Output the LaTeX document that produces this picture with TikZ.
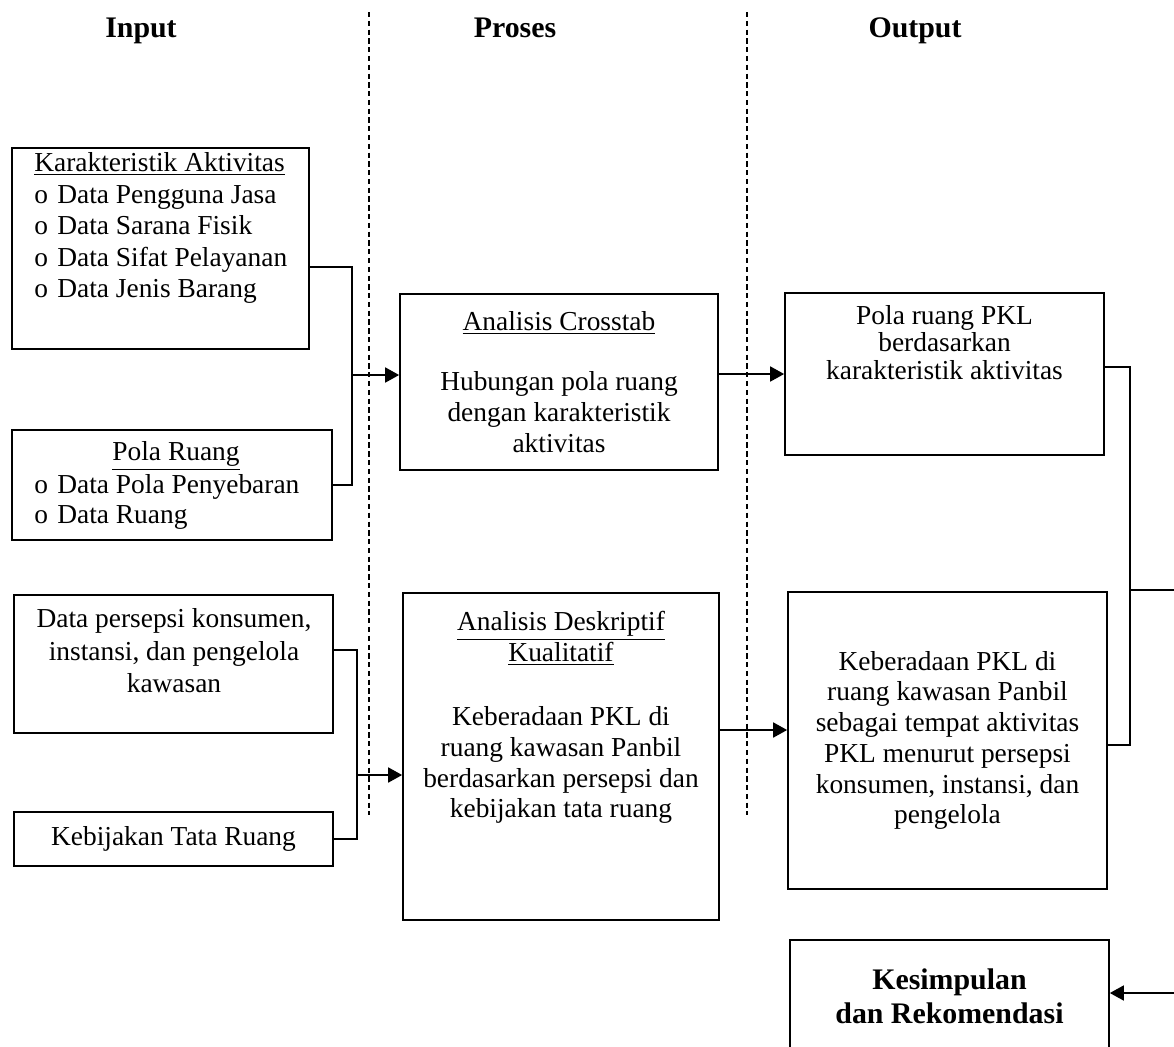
\documentclass[tikz,border=0pt]{standalone}
\usepackage{fontspec}
\setmainfont{Liberation Serif}
\usetikzlibrary{arrows.meta}

\newcommand{\bulo}{\makebox[0.46cm][l]{o}}

\begin{document}
\begin{tikzpicture}[
        x=0.02cm, y=-0.02cm,
        box/.style={draw, line width=1pt, inner sep=0pt, align=center, font=\fontsize{15.6}{17.5}\selectfont},
        txt/.style={inner sep=0pt, align=center, font=\fontsize{15.6}{17.5}\selectfont},
        head/.style={inner sep=0pt, anchor=base, font=\fontsize{17}{20}\selectfont\bfseries},
        link/.style={line width=1pt},
        arr/.style={line width=1pt, -{Triangle[length=0.28cm, width=0.3cm]}},
        sep/.style={line width=1.2pt, dash pattern=on 3pt off 2pt}
    ]
    \useasboundingbox (0,0) rectangle (1174,1046);

    \node[head] (input) at (141,37) {Input};
    \node[head] (proses) at (515,37) {Proses};
    \node[head] (output) at (915,37) {Output};

    \draw[sep] (369,12) -- (369,815);
    \draw[sep] (747,12) -- (747,815);

    \node[box, minimum width=5.94cm, minimum height=4.02cm] (kar) at (160.5,248.5) {};
    \node[txt, align=left, anchor=west, font=\fontsize{15.6}{17.9}\selectfont] (kartxt) at (34,228) {\underline{Karakteristik Aktivitas}\\\bulo Data Pengguna Jasa\\\bulo Data Sarana Fisik\\\bulo Data Sifat Pelayanan\\\bulo Data Jenis Barang};

    \node[box, minimum width=6.4cm, minimum height=2.2cm] (pola) at (172,485) {};
    \node[txt] (polatitle) at (176,456) {\underline{Pola Ruang}};
    \node[txt, align=left, anchor=west] (polatxt) at (34,502) {\bulo Data Pola Penyebaran\\\bulo Data Ruang};

    \node[box, minimum width=6.38cm, minimum height=2.76cm] (persepsi) at (173.5,664) {};
    \node[txt, font=\fontsize{15.6}{18.5}\selectfont] (persepsitxt) at (174,651) {Data persepsi konsumen,\\instansi, dan pengelola\\kawasan};

    \node[box, minimum width=6.38cm, minimum height=1.08cm] (kebijakan) at (173.5,839) {Kebijakan Tata Ruang};

    \node[box, minimum width=6.36cm, minimum height=3.52cm] (crosstab) at (559,382) {\underline{Analisis Crosstab}\\[17pt]Hubungan pola ruang\\dengan karakteristik\\aktivitas};

    \node[box, minimum width=6.32cm, minimum height=6.54cm] (deskriptif) at (561,756.5) {};
    \node[txt] (deskriptiftxt) at (561,717.5) {\underline{Analisis Deskriptif}\\\underline{Kualitatif}\\[19pt]Keberadaan PKL di\\ruang kawasan Panbil\\berdasarkan persepsi dan\\kebijakan tata ruang};

    \node[box, minimum width=6.38cm, minimum height=3.24cm] (polaout) at (944.5,374) {};
    \node[txt, font=\fontsize{15.6}{15.8}\selectfont] (polaouttxt) at (944.5,342.5) {Pola ruang PKL\\berdasarkan\\karakteristik aktivitas};

    \node[box, minimum width=6.38cm, minimum height=5.94cm] (keberadaan) at (947.5,740.5) {Keberadaan PKL di\\ruang kawasan Panbil\\sebagai tempat aktivitas\\PKL menurut persepsi\\konsumen, instansi, dan\\pengelola};

    \node[box, minimum width=6.38cm, minimum height=2.24cm, font=\fontsize{17}{19.3}\selectfont\bfseries] (kesimpulan) at (949.5,996) {Kesimpulan\\dan Rekomendasi};

    \coordinate (injoin) at (352,375);
    \coordinate (injoin2) at (357,775);
    \coordinate (outin) at (750,730);
    \coordinate (rjoin) at (1130,590);
    \coordinate (redge) at (1174,590);
    \coordinate (rend) at (1174,993);

    \draw[link] ([yshift=-0.37cm]kar.east) -| (injoin) |- (pola.east);
    \draw[arr] (injoin) -- (injoin -| crosstab.west);
    \draw[link] ([yshift=0.28cm]persepsi.east) -| (injoin2) |- (kebijakan.east);
    \draw[arr] (injoin2) -- (injoin2 -| deskriptif.west);
    \draw[arr] (crosstab.east |- polaout.west) -- (polaout.west);
    \draw[arr] (deskriptif.east |- outin) -- (outin -| keberadaan.west);
    \draw[link] ([yshift=0.14cm]polaout.east) -| (rjoin) |- ([yshift=-0.09cm]keberadaan.east);
    \draw[link] (rjoin) -- (redge);
    \draw[arr] (rend) -- (rend -| kesimpulan.east);
\end{tikzpicture}
\end{document}
